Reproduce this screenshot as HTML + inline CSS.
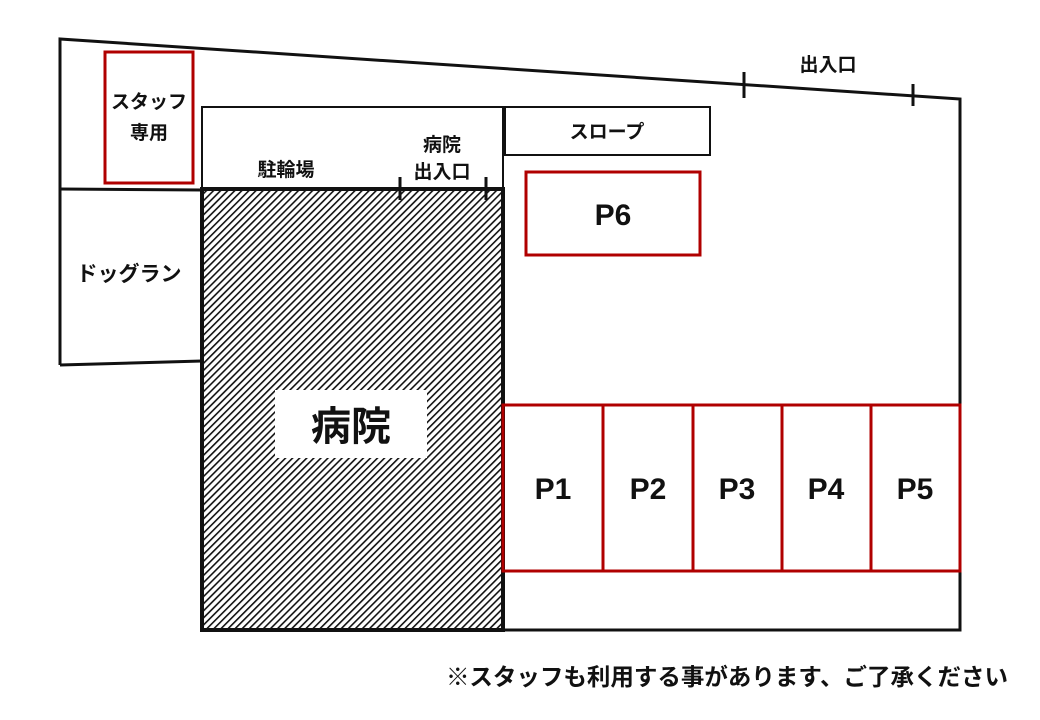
<!DOCTYPE html>
<html><head><meta charset="utf-8"><style>
body{margin:0;background:#fff}
svg{display:block}
text{font-family:"Liberation Sans","Noto Sans CJK JP",sans-serif;font-weight:bold;fill:#111}
</style></head><body>
<svg width="1040" height="720" viewBox="0 0 1040 720" xmlns="http://www.w3.org/2000/svg">
<defs>
<pattern id="h" patternUnits="userSpaceOnUse" width="5" height="5" patternTransform="rotate(45)">
<rect width="5" height="5" fill="#fff"/><rect x="0" y="0" width="1.6" height="5" fill="#111"/>
</pattern>
</defs>
<rect x="202" y="189" width="301" height="441" fill="url(#h)" stroke="#111" stroke-width="4"/>
<rect x="275" y="390" width="152" height="68" fill="#fff"/>
<text x="351" y="440" font-size="40" text-anchor="middle">病院</text>
<g fill="none" stroke="#111" stroke-width="3">
<polyline points="60,365 60,39 960,99 960,630 503,630"/>
<line x1="60" y1="189" x2="202" y2="190"/>
<line x1="60" y1="365" x2="202" y2="361"/>
<rect x="202" y="107" width="301" height="82" stroke-width="2"/>
<rect x="505" y="107" width="205" height="48" stroke-width="2"/>
<line x1="744" y1="72" x2="744" y2="98"/>
<line x1="913" y1="84" x2="913" y2="106"/>
<line x1="400" y1="177" x2="400" y2="200"/>
<line x1="486" y1="177" x2="486" y2="200"/>
</g>
<g fill="none" stroke="#b00000" stroke-width="3">
<rect x="105" y="52" width="88" height="131"/>
<rect x="526" y="172" width="174" height="83"/>
<rect x="503" y="405" width="457" height="166"/>
<line x1="603" y1="405" x2="603" y2="571"/>
<line x1="693" y1="405" x2="693" y2="571"/>
<line x1="782" y1="405" x2="782" y2="571"/>
<line x1="871" y1="405" x2="871" y2="571"/>
</g>
<g font-size="19" text-anchor="middle">
<text x="149" y="108">スタッフ</text>
<text x="149" y="139">専用</text>
<text x="286" y="176">駐輪場</text>
<text x="442" y="151">病院</text>
<text x="442" y="178">出入口</text>
<text x="607" y="138">スロープ</text>
<text x="828" y="71">出入口</text>
<text x="129" y="281" font-size="21">ドッグラン</text>
</g>
<g font-size="30" text-anchor="middle">
<text x="613" y="225">P6</text>
<text x="553" y="499">P1</text>
<text x="648" y="499">P2</text>
<text x="737" y="499">P3</text>
<text x="826" y="499">P4</text>
<text x="915" y="499">P5</text>
</g>
<text x="727" y="685" font-size="23.5" text-anchor="middle">※スタッフも利用する事があります、ご了承ください</text>
</svg>
</body></html>
